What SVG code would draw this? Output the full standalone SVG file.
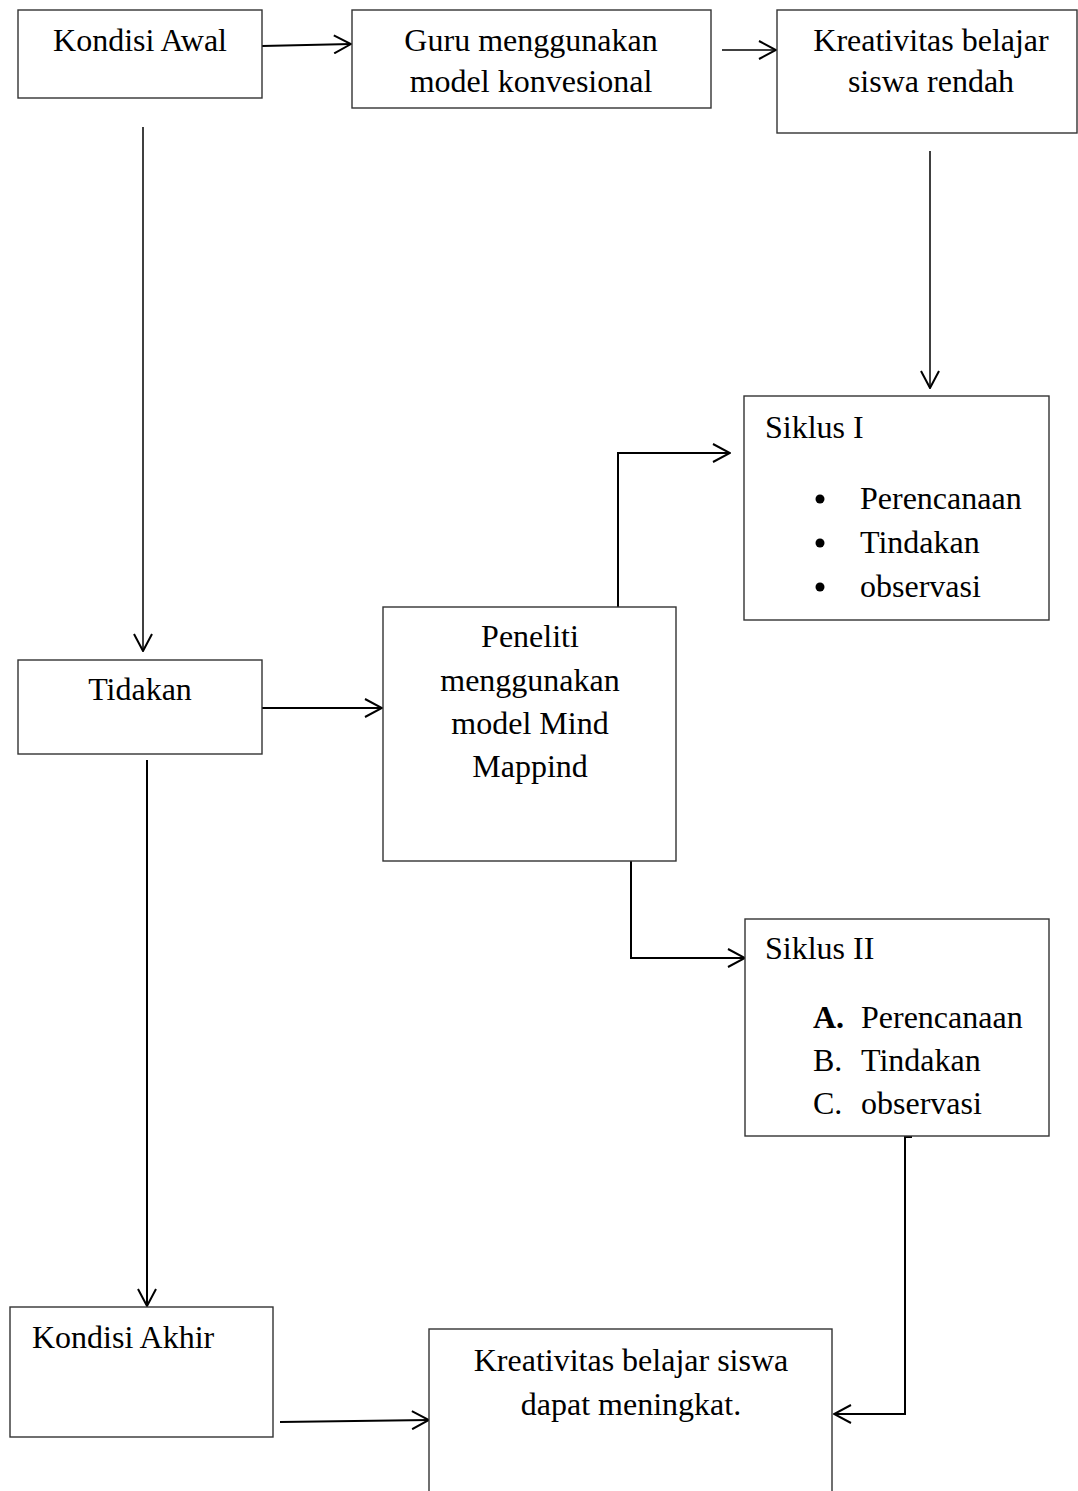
<svg xmlns="http://www.w3.org/2000/svg" width="1078" height="1491" viewBox="0 0 1078 1491">
<defs>
<marker id="arr" viewBox="0 0 20 20" refX="19" refY="10" markerUnits="userSpaceOnUse" markerWidth="20" markerHeight="20" orient="auto">
<path d="M2,1 L19,10 L2,19" fill="none" stroke="#000" stroke-width="2"/>
</marker>
<style>
.box{fill:#fff;stroke:#333;stroke-width:1.4}
.t{font-family:"Liberation Serif","Times New Roman",serif;font-size:32px;fill:#000}
.c{text-anchor:middle}
.ln{fill:none;stroke:#000;stroke-width:2}
.thin{fill:none;stroke:#000;stroke-width:1.5}
</style>
</defs>
<rect width="1078" height="1491" fill="#fff"/>
<g id="connectors">
<path class="ln" d="M262,46 L351,44" marker-end="url(#arr)"/>
<path class="thin" d="M722,50 L776,50" marker-end="url(#arr)"/>
<path class="thin" d="M143,127 L143,651" marker-end="url(#arr)"/>
<path class="thin" d="M930,151 L930,388" marker-end="url(#arr)"/>
<path class="ln" d="M262,708 L382,708" marker-end="url(#arr)"/>
<path class="ln" d="M618,607 L618,453 L730,453" marker-end="url(#arr)"/>
<path class="ln" d="M516,860 L631,860 L631,958 L745,958" marker-end="url(#arr)"/>
<path class="ln" d="M912,1137 L905,1137 L905,1414 L834,1414" marker-end="url(#arr)"/>
<path class="ln" d="M147,760 L147,1306" marker-end="url(#arr)"/>
<path class="ln" d="M280,1422 L429,1420" marker-end="url(#arr)"/>
</g>
<g id="kondisi-awal">
<rect class="box" x="18" y="10" width="244" height="88"/>
<text class="t c" x="140" y="51">Kondisi Awal</text>
</g>
<g id="guru">
<rect class="box" x="352" y="10" width="359" height="98"/>
<text class="t c" x="531" y="51">Guru menggunakan</text>
<text class="t c" x="531" y="92">model konvesional</text>
</g>
<g id="kreativitas-rendah">
<rect class="box" x="777" y="10" width="300" height="123"/>
<text class="t c" x="931" y="51">Kreativitas belajar</text>
<text class="t c" x="931" y="92">siswa rendah</text>
</g>
<g id="siklus-1">
<rect class="box" x="744" y="396" width="305" height="224"/>
<text class="t" x="765" y="438">Siklus I</text>
<circle cx="820" cy="499" r="4.5" fill="#000"/>
<circle cx="820" cy="543" r="4.5" fill="#000"/>
<circle cx="820" cy="587" r="4.5" fill="#000"/>
<text class="t" x="860" y="509">Perencanaan</text>
<text class="t" x="860" y="553">Tindakan</text>
<text class="t" x="860" y="597">observasi</text>
</g>
<g id="tidakan">
<rect class="box" x="18" y="660" width="244" height="94"/>
<text class="t c" x="140" y="700">Tidakan</text>
</g>
<g id="peneliti">
<rect class="box" x="383" y="607" width="293" height="254"/>
<text class="t c" x="530" y="647">Peneliti</text>
<text class="t c" x="530" y="691">menggunakan</text>
<text class="t c" x="530" y="734">model Mind</text>
<text class="t c" x="530" y="777">Mappind</text>
</g>
<g id="siklus-2">
<rect class="box" x="745" y="919" width="304" height="217"/>
<text class="t" x="765" y="959">Siklus II</text>
<text class="t" x="813" y="1028" font-weight="bold">A.</text>
<text class="t" x="861" y="1028">Perencanaan</text>
<text class="t" x="813" y="1071">B.</text>
<text class="t" x="861" y="1071">Tindakan</text>
<text class="t" x="813" y="1114">C.</text>
<text class="t" x="861" y="1114">observasi</text>
</g>
<g id="kondisi-akhir">
<rect class="box" x="10" y="1307" width="263" height="130"/>
<text class="t" x="32" y="1348">Kondisi Akhir</text>
</g>
<g id="kreativitas-meningkat">
<rect class="box" x="429" y="1329" width="403" height="170"/>
<text class="t c" x="631" y="1371">Kreativitas belajar siswa</text>
<text class="t c" x="631" y="1415">dapat meningkat.</text>
</g>
</svg>
